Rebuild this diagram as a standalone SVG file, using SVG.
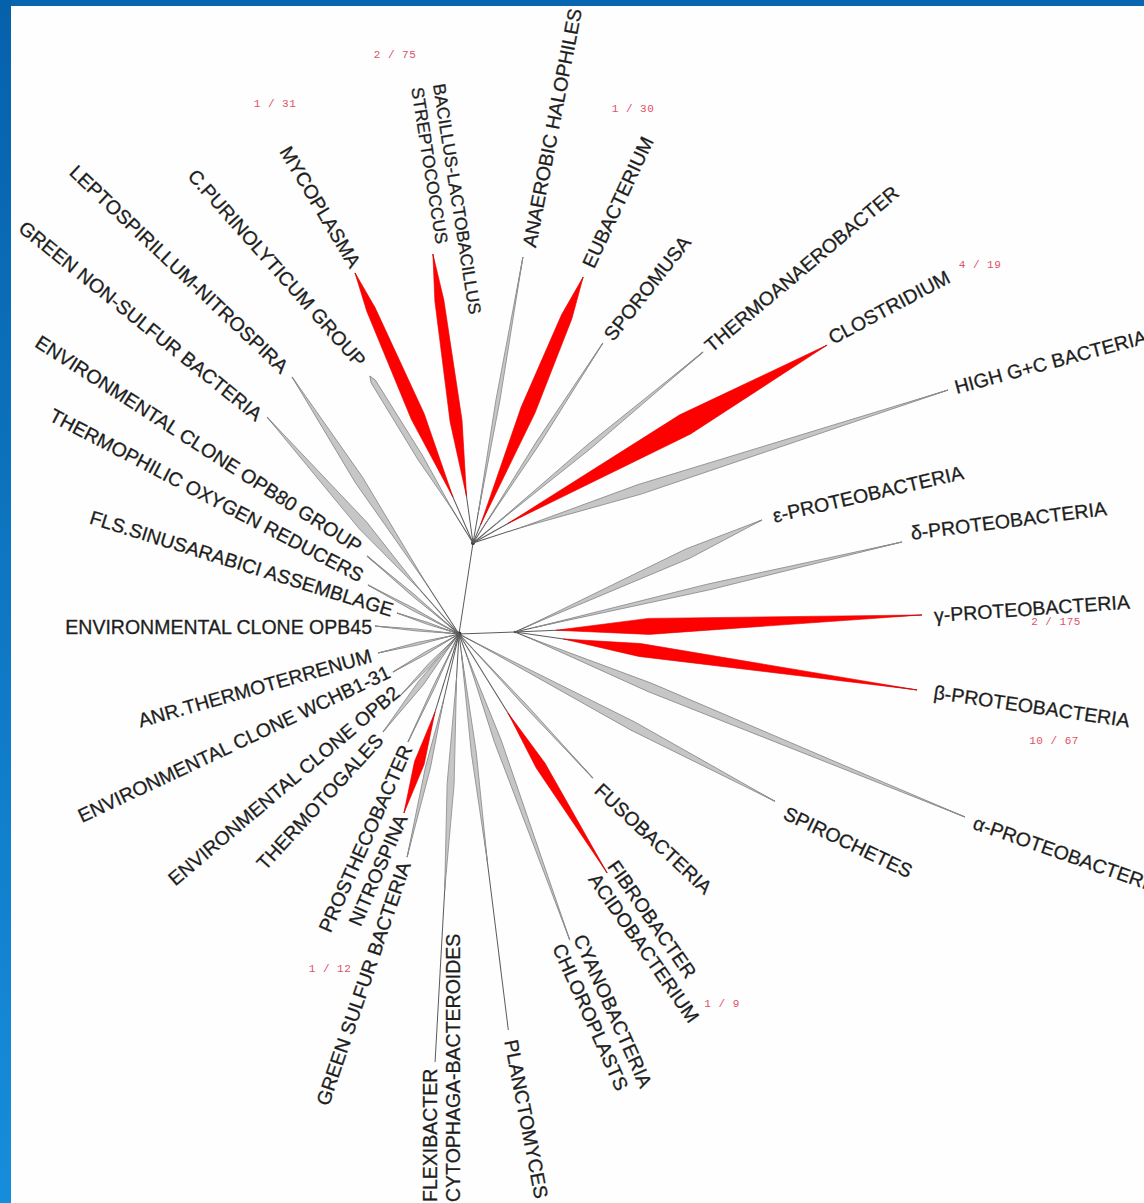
<svg xmlns="http://www.w3.org/2000/svg" width="1144" height="1203" viewBox="0 0 1144 1203">
<defs>
<linearGradient id="edge" x1="0" y1="0" x2="0" y2="1">
<stop offset="0" stop-color="#0661ab"/>
<stop offset="1" stop-color="#168ddc"/>
</linearGradient>
</defs>
<style>
.t{font-family:"Liberation Sans",Arial,sans-serif;font-size:19.5px;fill:#1c1c1c;stroke:#2a2a2a;stroke-width:0.3}
.c{font-family:"Liberation Mono",monospace;font-size:11px;fill:#e0506a;letter-spacing:0.5px;text-anchor:middle}
.ln{stroke:#5a5a5a;stroke-width:1;fill:none}
.g{fill:#c6c6c6;stroke:#8c8c8c;stroke-width:0.8;stroke-linejoin:round}
.r{fill:#ff0000;stroke:#e80000;stroke-width:0.6;stroke-linejoin:round}
.e{text-anchor:end}
.s{font-size:17.5px}
</style>
<rect width="1144" height="1203" fill="#fdfefd"/>
<rect x="0" y="0" width="1144" height="6" fill="#0866b0"/>
<rect x="0" y="0" width="11" height="1203" fill="url(#edge)"/>

<g id="connectors">
<line class="ln" x1="459" y1="634" x2="473" y2="543"/>
<line class="ln" x1="459" y1="634" x2="515" y2="632"/>
<circle cx="459" cy="634" r="2.5" fill="#333"/>
<circle cx="473" cy="543" r="2" fill="#333"/>
<circle cx="515" cy="632" r="1.3" fill="#555"/>
</g>

<!-- upper hub -->
<g id="n-mycoplasma">
<g transform="translate(473,543) rotate(-113.6)"><line class="ln" x2="294.7"/><polygon class="r" points="50,0 138,-7 255,-4.5 294.7,0 255,4.5 138,7"/></g>
<text class="t e" dy="0.35em" transform="translate(355.8,266) rotate(59)">MYCOPLASMA</text>
</g>
<g id="n-bacillus">
<g transform="translate(473,543) rotate(-97.9)"><line class="ln" x2="291.8"/><polygon class="r" points="47,0 123,-6 245,-4.5 291.8,0 245,4.5 123,6"/></g>
<text class="t s" transform="translate(428.5,85.5) rotate(81)"><tspan x="0" y="-4.5">BACILLUS-LACTOBACILLUS</tspan><tspan x="0" y="17.5">STREPTOCOCCUS</tspan></text>
</g>
<g id="n-anaerobic">
<g transform="translate(473,543) rotate(-80.1)"><line class="ln" x2="290.3"/><polygon class="g" points="29,0 145,-2 290.3,0 145,2"/></g>
<text class="t" dy="0.35em" transform="translate(529,247) rotate(-79)">ANAEROBIC HALOPHILES</text>
</g>
<g id="n-eubacterium">
<g transform="translate(473,543) rotate(-67.5)"><line class="ln" x2="287.8"/><polygon class="r" points="20,0 144,-7.5 245,-5.5 287.8,0 245,5.5 144,7.5"/></g>
<text class="t" dy="0.35em" transform="translate(587.9,266.5) rotate(-65)">EUBACTERIUM</text>
</g>
<g id="n-sporomusa">
<g transform="translate(473,543) rotate(-57)"><line class="ln" x2="238.5"/><polygon class="g" points="24,0 119,-2 238.5,0 119,2"/></g>
<text class="t" dy="0.35em" transform="translate(608,338) rotate(-51.7)">SPOROMUSA</text>
</g>
<g id="n-thermoanaerobacter">
<g transform="translate(473,543) rotate(-39.7)"><line class="ln" x2="299"/><polygon class="g" points="30,0 150,-2.5 299,0 150,2.5"/></g>
<text class="t" dy="0.35em" transform="translate(707.4,347.9) rotate(-40)">THERMOANAEROBACTER</text>
</g>
<g id="n-clostridium">
<g transform="translate(473,543) rotate(-29.2)"><line class="ln" x2="405.6"/><polygon class="r" points="40,0 243,-11 405.6,0 243,11"/></g>
<text class="t" dy="0.35em" transform="translate(829.7,338.8) rotate(-28)">CLOSTRIDIUM</text>
</g>
<g id="n-highgc">
<g transform="translate(473,543) rotate(-17.85)"><line class="ln" x2="499"/><polygon class="g" points="50,0 175,-5 499,0 175,5"/></g>
<text class="t" dy="0.35em" transform="translate(955,387.5) rotate(-15)">HIGH G+C BACTERIA</text>
</g>
<g id="n-cpurinolyticum">
<g transform="translate(473,543) rotate(-121.7)"><line class="ln" x2="196.2"/><polygon class="g" points="40,0 100,-3 190,-2.5 196.2,0 190,2.5 100,3"/></g>
<text class="t e" dy="0.35em" transform="translate(362,364) rotate(48.4)">C.PURINOLYTICUM GROUP</text>
</g>

<!-- main hub -->
<g id="n-leptospirillum">
<g transform="translate(459,634) rotate(-123)"><line class="ln" x2="306.5"/><polygon class="g" points="61,0 184,-4.5 306.5,0 184,4.5"/></g>
<text class="t e" dy="0.35em" transform="translate(285.2,369.5) rotate(43.4)">LEPTOSPIRILLUM-NITROSPIRA</text>
</g>
<g id="n-greennonsulfur">
<g transform="translate(459,634) rotate(-131.5)"><line class="ln" x2="289.7"/><polygon class="g" points="58,0 145,-5 289.7,0 145,5"/></g>
<text class="t e" dy="0.35em" transform="translate(259.6,416.6) rotate(38.8)">GREEN NON-SULFUR BACTERIA</text>
</g>
<g id="n-opb80">
<g transform="translate(459,634) rotate(-139.7)"><line class="ln" x2="120.6"/><polygon class="g" points="12,0 60,-1.3 120.6,0 60,1.3"/></g>
<text class="t e" dy="0.35em" transform="translate(360,548) rotate(32.8)">ENVIRONMENTAL CLONE OPB80 GROUP</text>
</g>
<g id="n-thermophilic">
<g transform="translate(459,634) rotate(-151.7)"><line class="ln" x2="103.4"/><polygon class="g" points="10,0 52,-1.3 103.4,0 52,1.3"/></g>
<text class="t e" dy="0.35em" transform="translate(362.3,576.5) rotate(27.6)">THERMOPHILIC OXYGEN REDUCERS</text>
</g>
<g id="n-fls">
<g transform="translate(459,634) rotate(-161.3)"><line class="ln" x2="65.5"/><polygon class="g" points="7,0 33,-1 65.5,0 33,1"/></g>
<text class="t e" dy="0.35em" transform="translate(392.7,610.4) rotate(17.2)">FLS.SINUSARABICI ASSEMBLAGE</text>
</g>
<g id="n-opb45">
<g transform="translate(459,634) rotate(-174.6)"><line class="ln" x2="84.4"/><polygon class="g" points="8,0 42,-1 84.4,0 42,1"/></g>
<text class="t e" dy="0.35em" transform="translate(372,627.5)">ENVIRONMENTAL CLONE OPB45</text>
</g>
<g id="n-anr">
<g transform="translate(459,634) rotate(166.8)"><line class="ln" x2="83.2"/><polygon class="g" points="8,0 42,-1.3 83.2,0 42,1.3"/></g>
<text class="t e" dy="0.35em" transform="translate(371.2,655.2) rotate(-15.8)">ANR.THERMOTERRENUM</text>
</g>
<g id="n-wchb">
<g transform="translate(459,634) rotate(150.1)"><line class="ln" x2="76.2"/><polygon class="g" points="8,0 38,-1.3 76.2,0 38,1.3"/></g>
<text class="t e" dy="0.35em" transform="translate(389,671) rotate(-25.2)">ENVIRONMENTAL CLONE WCHB1-31</text>
</g>
<g id="n-opb2">
<g transform="translate(459,634) rotate(133.6)"><line class="ln" x2="85.6"/><polygon class="g" points="9,0 43,-1.5 85.6,0 43,1.5"/></g>
<text class="t e" dy="0.35em" transform="translate(396.5,690) rotate(-40.3)">ENVIRONMENTAL CLONE OPB2</text>
</g>
<g id="n-thermotogales">
<g transform="translate(459,634) rotate(127.8)"><line class="ln" x2="124"/><polygon class="g" points="12,0 62,-3 124,0 62,3"/></g>
<text class="t e" dy="0.35em" transform="translate(379.4,736.7) rotate(-47.5)">THERMOTOGALES</text>
</g>
<g id="n-prosthecobacter">
<g transform="translate(459,634) rotate(115.3)"><line class="ln" x2="119.4"/><polygon class="g" points="12,0 60,-1 119.4,0 60,1"/></g>
<text class="t e" dy="0.35em" transform="translate(406.6,746) rotate(-66)">PROSTHECOBACTER</text>
</g>
<g id="n-nitrospina">
<g transform="translate(459,634) rotate(107.1)"><line class="ln" x2="187.3"/><polygon class="r" points="82,0 135,-5 187.3,0 135,5"/></g>
<text class="t e" dy="0.35em" transform="translate(401.6,815.5) rotate(-66.6)">NITROSPINA</text>
</g>
<g id="n-greensulfur">
<g transform="translate(459,634) rotate(103.1)"><line class="ln" x2="229"/><polygon class="g" points="69,0 137,-2.5 229,0 137,2.5"/></g>
<text class="t e" dy="0.35em" transform="translate(404.6,862.4) rotate(-71.2)">GREEN SULFUR BACTERIA</text>
</g>
<g id="n-flexibacter">
<g transform="translate(459,634) rotate(93.2)"><line class="ln" x2="428.7"/><polygon class="g" points="43,0 150,-3.5 257,0 150,3.5"/></g>
<text class="t" transform="translate(441.5,1202) rotate(-90)"><tspan x="0" y="-4.5">FLEXIBACTER</tspan><tspan x="0" y="18.5">CYTOPHAGA-BACTEROIDES</tspan></text>
</g>
<g id="n-planctomyces">
<g transform="translate(459,634) rotate(82.9)"><line class="ln" x2="399"/><polygon class="g" points="20,0 120,-2.5 230,0 120,2.5"/></g>
<text class="t" dy="0.35em" transform="translate(511,1040) rotate(79)">PLANCTOMYCES</text>
</g>
<g id="n-cyanobacteria">
<g transform="translate(459,634) rotate(70.1)"><line class="ln" x2="325.5"/><polygon class="g" points="23,0 114,-3.5 325.5,0 114,3.5"/></g>
<text class="t" transform="translate(569,940) rotate(66)"><tspan x="0" y="-4.5">CYANOBACTERIA</tspan><tspan x="0" y="18.5">CHLOROPLASTS</tspan></text>
</g>
<g id="n-fibrobacter">
<g transform="translate(459,634) rotate(58.2)"><line class="ln" x2="281.1"/><polygon class="r" points="93,0 155,-5 281.1,0 155,5"/></g>
<text class="t" transform="translate(603,869) rotate(55)"><tspan x="0" y="-4.5">FIBROBACTER</tspan><tspan x="0" y="18.5">ACIDOBACTERIUM</tspan></text>
</g>
<g id="n-fusobacteria">
<g transform="translate(459,634) rotate(47.1)"><line class="ln" x2="196.7"/><polygon class="g" points="20,0 98,-1.3 196.7,0 98,1.3"/></g>
<text class="t" dy="0.35em" transform="translate(598,787) rotate(43)">FUSOBACTERIA</text>
</g>
<g id="n-spirochetes">
<g transform="translate(459,634) rotate(27.9)"><line class="ln" x2="357.4"/><polygon class="g" points="18,0 197,-4.5 357.4,0 197,4.5"/></g>
<text class="t" dy="0.35em" transform="translate(785,812) rotate(25.5)">SPIROCHETES</text>
</g>

<!-- proteobacteria hub -->
<g id="n-epsilon">
<g transform="translate(515,632) rotate(-24.4)"><line class="ln" x2="271.2"/><polygon class="g" points="14,0 190,-5 271.2,0 190,5"/></g>
<text class="t" dy="0.35em" transform="translate(773,516) rotate(-13)">ε-PROTEOBACTERIA</text>
</g>
<g id="n-delta">
<g transform="translate(515,632) rotate(-13.1)"><line class="ln" x2="397.3"/><polygon class="g" points="20,0 199,-3 397.3,0 199,3"/></g>
<text class="t" dy="0.35em" transform="translate(911,533) rotate(-7.2)">δ-PROTEOBACTERIA</text>
</g>
<g id="n-gamma">
<g transform="translate(515,632) rotate(-2.4)"><line class="ln" x2="407.4"/><polygon class="r" points="41,0 134,-8 407.4,0 134,8"/></g>
<text class="t" dy="0.35em" transform="translate(934,615.4) rotate(-4)">γ-PROTEOBACTERIA</text>
</g>
<g id="n-beta">
<g transform="translate(515,632) rotate(8.2)"><line class="ln" x2="406.2"/><polygon class="r" points="49,0 126,-6.5 406.2,0 126,6.5"/></g>
<text class="t" dy="0.35em" transform="translate(934,692) rotate(8.3)">β-PROTEOBACTERIA</text>
</g>
<g id="n-alpha">
<g transform="translate(515,632) rotate(22.35)"><line class="ln" x2="486.5"/><polygon class="g" points="15,0 146,-4.5 486.5,0 146,4.5"/></g>
<text class="t" dy="0.35em" transform="translate(974,822) rotate(19.3)">α-PROTEOBACTERIA</text>
</g>

<g id="counts">
<text class="c" x="275" y="107">1 / 31</text>
<text class="c" x="395" y="58">2 / 75</text>
<text class="c" x="633" y="112">1 / 30</text>
<text class="c" x="980" y="268">4 / 19</text>
<text class="c" x="1056" y="625">2 / 175</text>
<text class="c" x="1054" y="744">10 / 67</text>
<text class="c" x="330" y="972">1 / 12</text>
<text class="c" x="722" y="1007">1 / 9</text>
</g>
</svg>
